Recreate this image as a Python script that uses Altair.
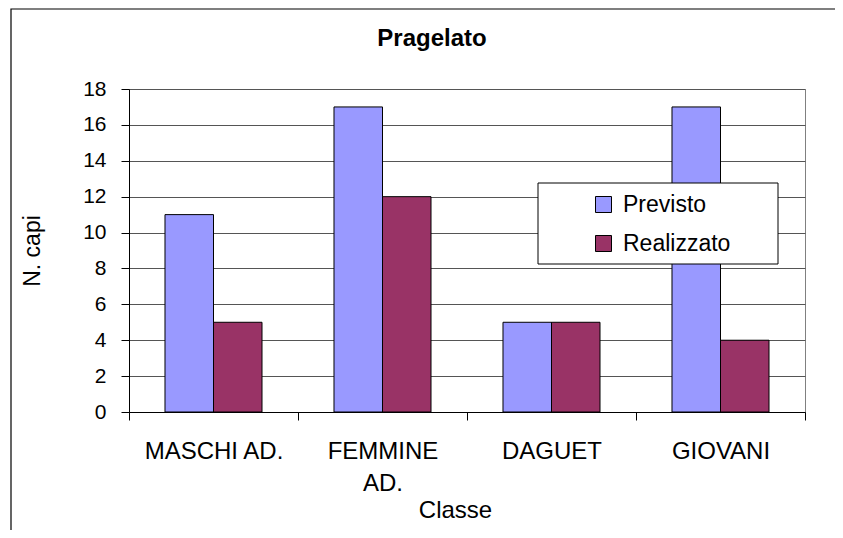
import altair as alt
import pandas as pd

categories = ["MASCHI AD.", "FEMMINE AD.", "DAGUET", "GIOVANI"]
series_names = ["Previsto", "Realizzato"]
previsto = [11, 17, 5, 17]
realizzato = [5, 12, 5, 4]
y_ticks = [0, 2, 4, 6, 8, 10, 12, 14, 16, 18]
colors = ["#9999FF", "#993366"]

rows = []
for c, p, r in zip(categories, previsto, realizzato):
    rows.append({"Classe": c, "Serie": series_names[0], "capi": p})
    rows.append({"Classe": c, "Serie": series_names[1], "capi": r})
df = pd.DataFrame(rows)

FONT = "Liberation Sans"
W, H = 676, 323

bars = alt.Chart(df).mark_bar(stroke="black", strokeWidth=1).encode(
    x=alt.X("Classe:N", sort=categories,
            scale=alt.Scale(paddingInner=0, paddingOuter=0),
            axis=alt.Axis(title="Classe", labelAngle=0, tickBand="extent",
                          labelExpr="datum.value == 'FEMMINE AD.' ? ['FEMMINE', 'AD.'] : datum.value",
                          labelFontSize=24, labelPadding=19, labelLineHeight=32,
                          tickSize=8, titleX=326, titleY=105,
                          titleBaseline="alphabetic", titleFontSize=24)),
    xOffset=alt.XOffset("Serie:N", sort=series_names,
                        scale=alt.Scale(paddingInner=0, paddingOuter=0.742)),
    y=alt.Y("capi:Q", scale=alt.Scale(domain=[0, 18], nice=False),
            axis=alt.Axis(title="N. capi", values=y_ticks, grid=True,
                          labelFontSize=21, labelPadding=15, tickSize=8,
                          titleFontSize=23, titleX=-90, titleY=H / 2,
                          titleBaseline="alphabetic")),
    color=alt.Color("Serie:N", sort=series_names,
                    scale=alt.Scale(domain=series_names, range=colors),
                    legend=alt.Legend(title=None, orient="none",
                                      legendX=463, legendY=104,
                                      symbolType="square", symbolSize=256,
                                      symbolStrokeColor="black", symbolStrokeWidth=1,
                                      labelFontSize=23, labelOffset=8,
                                      rowPadding=15, padding=0, labelLimit=300)),
)

one = pd.DataFrame({"k": [0]})
frame = alt.Chart(one).mark_rect(fillOpacity=0, stroke="black", strokeWidth=1.2).encode(
    x=alt.value(-118), x2=alt.value(760), y=alt.value(-80), y2=alt.value(460)
)
legend_box = alt.Chart(one).mark_rect(fill="white", stroke="black", strokeWidth=1).encode(
    x=alt.value(409), x2=alt.value(649), y=alt.value(94), y2=alt.value(175)
)

chart = alt.layer(frame, bars, legend_box).properties(
    width=W, height=H,
    title=alt.TitleParams("Pragelato", fontSize=24, fontWeight="bold", font=FONT,
                          anchor="middle", dx=-35, offset=-62, baseline="alphabetic",
                          color="black"),
    padding={"left": 121, "top": 81, "right": 30, "bottom": 118},
    autosize=alt.AutoSizeParams(type="none"),
).configure(
    font=FONT,
).configure_view(
    stroke="#808080", strokeWidth=1
).configure_axis(
    labelFont=FONT, titleFont=FONT, labelColor="black", titleColor="black",
    titleFontWeight="normal", domainColor="black", tickColor="black",
    gridColor="#555555", domainWidth=1, tickWidth=1,
)

chart.save("out.html", embed_options={"renderer": "svg", "actions": False})
